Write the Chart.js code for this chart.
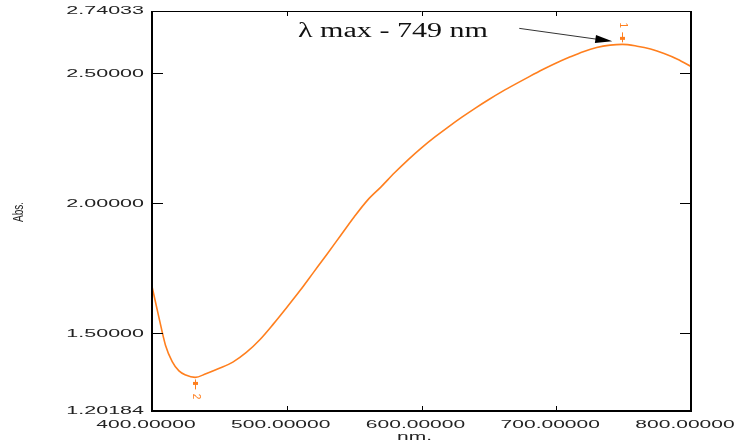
<!DOCTYPE html>
<html>
<head>
<meta charset="utf-8">
<script src="https://cdn.jsdelivr.net/npm/chart.js@4.4.1/dist/chart.umd.min.js"></script>
<style>
  body { margin: 0; background: #fff; }
  #wrap { width: 738px; height: 444px; position: relative; }
</style>
</head>
<body>
<div id="wrap"><canvas id="spectrum"></canvas></div>
<script>
// wavelength (nm) and absorbance
const wavelengths = [400, 405, 410, 415, 420, 425, 432, 440, 450, 460, 470, 480, 490,
  500, 510, 520, 530, 540, 550, 560, 570, 580, 590, 600, 610, 620, 630, 640, 650,
  660, 670, 680, 690, 700, 710, 720, 730, 740, 749, 760, 770, 780, 790, 800];
const absorbance = [1.681, 1.565, 1.455, 1.392, 1.356, 1.340, 1.331, 1.345, 1.366, 1.390,
  1.427, 1.476, 1.536, 1.600, 1.666, 1.736, 1.806, 1.877, 1.948, 2.013, 2.064, 2.118,
  2.168, 2.214, 2.256, 2.295, 2.332, 2.367, 2.400, 2.431, 2.460, 2.488, 2.515, 2.540,
  2.563, 2.584, 2.600, 2.609, 2.612, 2.605, 2.594, 2.577, 2.555, 2.527];

const xTicks = [400, 500, 600, 700, 800];
const yTicks = [1.20184, 1.5, 2.0, 2.5, 2.74033];

// picked peaks: 1 = max (marker above), 2 = min (marker below)
const peakNm = [749, 432];
const peakAbs = [2.612, 1.331];
const peakLabels = ["1", "2"];
const peakSide = [-1, 1];

const annotation = "\u03bb max - 749 nm";

const orange = "#ff7f1e";

function stretchedText(ctx, text, x, y, sx, align) {
  const w = ctx.measureText(text).width * sx;
  let left = x;
  if (align === "center") left = x - w / 2;
  if (align === "right") left = x - w;
  ctx.save();
  ctx.translate(left, y);
  ctx.scale(sx, 1);
  ctx.textAlign = "left";
  ctx.fillText(text, 0, 0);
  ctx.restore();
}

const frame = {
  id: "frame",
  afterDraw(chart) {
    const ctx = chart.ctx;
    const a = chart.chartArea;
    const xs = chart.scales.x, ys = chart.scales.y;
    ctx.save();

    // box
    ctx.strokeStyle = "#000";
    ctx.lineWidth = 1;
    ctx.beginPath();
    ctx.moveTo(a.left, a.top + 0.5); ctx.lineTo(a.right, a.top + 0.5);
    ctx.stroke();
    ctx.lineWidth = 2;
    ctx.beginPath();
    ctx.moveTo(a.left, a.top); ctx.lineTo(a.left, a.bottom);
    ctx.lineTo(a.right, a.bottom); ctx.lineTo(a.right, a.top);
    ctx.stroke();

    // inward ticks
    ctx.lineWidth = 1;
    ctx.beginPath();
    xTicks.forEach(v => {
      const px = Math.round(xs.getPixelForValue(v)) + 0.5;
      ctx.moveTo(px, a.bottom); ctx.lineTo(px, a.bottom - 5);
      ctx.moveTo(px, a.top); ctx.lineTo(px, a.top + 5);
    });
    yTicks.forEach(v => {
      const py = Math.round(ys.getPixelForValue(v)) + 0.5;
      ctx.moveTo(a.left, py); ctx.lineTo(a.left + 11, py);
      ctx.moveTo(a.right, py); ctx.lineTo(a.right - 11, py);
    });
    ctx.stroke();

    // tick labels
    ctx.fillStyle = "#222";
    ctx.font = "10px 'Liberation Sans', Arial, sans-serif";
    ctx.textBaseline = "middle";
    yTicks.forEach(v => {
      stretchedText(ctx, v.toFixed(5), a.left - 8, ys.getPixelForValue(v) + 0.5, 2.15, "right");
    });
    xTicks.forEach(v => {
      stretchedText(ctx, v.toFixed(5), xs.getPixelForValue(v) - 6, a.bottom + 14, 2.1, "center");
    });

    // axis titles
    stretchedText(ctx, "nm.", (a.left + a.right) / 2 - 7, a.bottom + 26, 2.1, "center");
    ctx.save();
    ctx.translate(19, (a.top + a.bottom) / 2 + 1);
    ctx.rotate(-Math.PI / 2);
    ctx.scale(1, 1.4);
    ctx.font = "10px 'Liberation Sans', Arial, sans-serif";
    ctx.textAlign = "center";
    ctx.fillText("Abs.", 0, 0);
    ctx.restore();

    // peak pick markers
    ctx.strokeStyle = orange;
    ctx.fillStyle = orange;
    ctx.font = "10px 'Liberation Sans', Arial, sans-serif";
    peakNm.forEach((nm, i) => {
      const px = Math.round(xs.getPixelForValue(nm)) + 0.5;
      const py = ys.getPixelForValue(peakAbs[i]);
      const s = peakSide[i];
      ctx.lineWidth = 1;
      ctx.beginPath();
      ctx.moveTo(px, py + s * 2); ctx.lineTo(px, py + s * 12);
      ctx.stroke();
      ctx.fillRect(px - 2.5, py + s * 6 - 1.5, 5, 3);
      ctx.save();
      ctx.translate(px, py + s * 19);
      ctx.rotate(Math.PI / 2);
      ctx.textAlign = "center";
      ctx.textBaseline = "middle";
      ctx.fillText(peakLabels[i], 0, 0);
      ctx.restore();
    });

    // lambda max annotation with arrow
    const tx = xs.getPixelForValue(peakNm[0]);
    const ty = ys.getPixelForValue(peakAbs[0]);
    ctx.fillStyle = "#111";
    ctx.font = "20px 'Liberation Serif', 'Times New Roman', serif";
    ctx.textBaseline = "alphabetic";
    const tw = ctx.measureText(annotation).width;
    stretchedText(ctx, annotation, 298, 37, 190 / tw, "left");

    const x0 = tx - 103, y0 = ty - 16;
    const x1 = tx - 10, y1 = ty - 3;
    const ang = Math.atan2(y1 - y0, x1 - x0);
    ctx.strokeStyle = "#333";
    ctx.lineWidth = 1;
    ctx.beginPath();
    ctx.moveTo(x0, y0); ctx.lineTo(x1 - 14 * Math.cos(ang), y1 - 14 * Math.sin(ang));
    ctx.stroke();
    ctx.fillStyle = "#000";
    ctx.beginPath();
    ctx.moveTo(x1, y1);
    ctx.lineTo(x1 - 17 * Math.cos(ang) + 4 * Math.sin(ang), y1 - 17 * Math.sin(ang) - 4 * Math.cos(ang));
    ctx.lineTo(x1 - 17 * Math.cos(ang) - 4 * Math.sin(ang), y1 - 17 * Math.sin(ang) + 4 * Math.cos(ang));
    ctx.closePath();
    ctx.fill();

    ctx.restore();
  }
};

new Chart(document.getElementById("spectrum"), {
  type: "line",
  data: {
    datasets: [{
      label: "Abs.",
      data: wavelengths.map((w, i) => ({ x: w, y: absorbance[i] })),
      borderColor: orange,
      borderWidth: 1.6,
      pointRadius: 0,
      cubicInterpolationMode: "monotone",
      fill: false
    }]
  },
  options: {
    responsive: true,
    maintainAspectRatio: false,
    animation: false,
    layout: { padding: { left: 152, right: 47, top: 11, bottom: 33 } },
    plugins: { legend: { display: false }, tooltip: { enabled: false } },
    scales: {
      x: { type: "linear", min: 400, max: 800, display: false },
      y: { type: "linear", min: 1.20184, max: 2.74033, display: false }
    }
  },
  plugins: [frame]
});
</script>
</body>
</html>
